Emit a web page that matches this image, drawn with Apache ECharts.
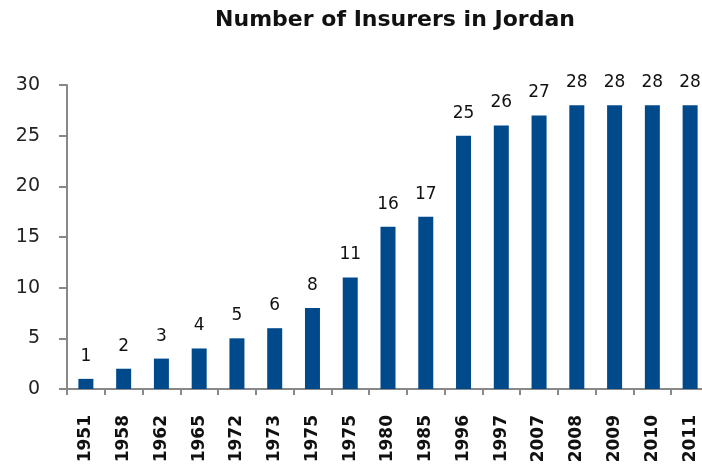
<!DOCTYPE html>
<html><head><meta charset="utf-8">
<script src="https://cdn.jsdelivr.net/npm/echarts@6/dist/echarts.min.js"></script>
<style>html,body{margin:0;padding:0;background:#fff}#c{width:702px;height:470px}</style>
</head><body><div id="c"></div>
<script>
const years = ["1951","1958","1962","1965","1972","1973","1975","1975","1980","1985","1996","1997","2007","2008","2009","2010","2011"];
const insurers = [1,2,3,4,5,6,8,11,16,17,25,26,27,28,28,28,28];
const yTicks = [0,5,10,15,20,25,30];
const titleText = "Number of Insurers in Jordan";

const idx = years.map((_, i) => String(i));
const chart = echarts.init(document.getElementById('c'));
chart.setOption({
  animation: false,
  title: {
    text: titleText, left: 390, top: 4, textAlign: 'center',
    textStyle: {fontFamily: 'DejaVu Sans', fontWeight: 'bold', fontSize: 22, color: '#111'}
  },
  grid: {left: 67, width: 642, top: 85, bottom: 81, containLabel: false, outerBoundsMode: 'none'},
  xAxis: {
    type: 'category', data: idx,
    axisLine: {lineStyle: {color: '#888', width: 2}},
    axisTick: {show: true, length: 6, lineStyle: {color: '#888', width: 2}, alignWithLabel: false},
    axisLabel: {
      rotate: 90, margin: 26, interval: 0,
      formatter: v => years[+v],
      fontFamily: 'DejaVu Sans', fontWeight: 'bold', fontSize: 17, color: '#111'
    }
  },
  yAxis: {
    type: 'value', min: yTicks[0], max: yTicks[yTicks.length-1], interval: 5,
    splitLine: {show: false},
    axisLine: {show: true, lineStyle: {color: '#888', width: 2}},
    axisTick: {show: true, length: 8, lineStyle: {color: '#888', width: 2}},
    axisLabel: {margin: 27, fontFamily: 'DejaVu Sans', fontSize: 19, color: '#222'}
  },
  series: [{
    type: 'bar', data: insurers, barWidth: 15,
    itemStyle: {color: '#004A8C'},
    label: {show: true, position: 'top', distance: 14, fontFamily: 'DejaVu Sans', fontSize: 17, color: '#111'}
  }]
});
</script></body></html>
